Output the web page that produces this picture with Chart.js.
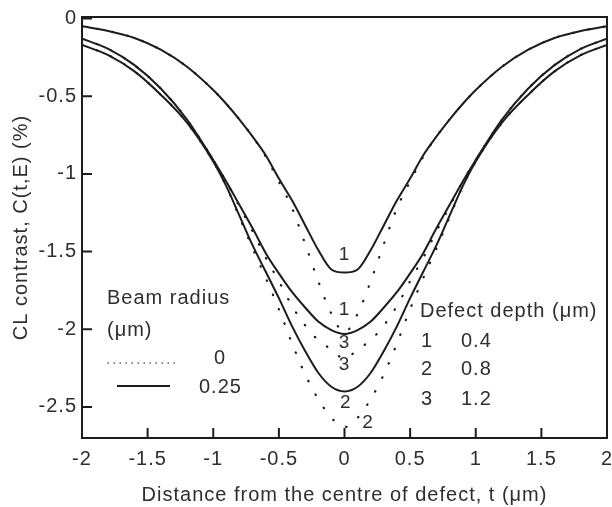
<!DOCTYPE html>
<html>
<head>
<meta charset="utf-8">
<script src="https://cdn.jsdelivr.net/npm/chart.js@4.4.1/dist/chart.umd.min.js"></script>
<style>
  html, body { margin:0; padding:0; background:#fff; }
  #wrap { width:612px; height:507px; }
</style>
</head>
<body>
<div id="wrap"><canvas id="cl" width="612" height="507"></canvas></div>
<script>
// ====== CL contrast vs distance from defect ======
const tVals = [-2, -1.8, -1.6, -1.4, -1.2, -1, -0.9, -0.8, -0.7, -0.6, -0.5, -0.4, -0.3, -0.2, -0.1,
               0, 0.1, 0.2, 0.3, 0.4, 0.5, 0.6, 0.7, 0.8, 0.9, 1, 1.2, 1.4, 1.6, 1.8, 2];

// beam radius 0.25 µm (solid)
const solid1 = [-0.05,-0.08,-0.125,-0.20,-0.31,-0.46,-0.55,-0.65,-0.76,-0.88,-1.03,-1.17,-1.33,-1.49,-1.615,
                -1.635,-1.615,-1.49,-1.33,-1.17,-1.03,-0.88,-0.76,-0.65,-0.55,-0.46,-0.31,-0.20,-0.125,-0.08,-0.05];
const solid2 = [-0.17,-0.235,-0.34,-0.49,-0.67,-0.92,-1.08,-1.27,-1.46,-1.63,-1.80,-1.98,-2.14,-2.28,-2.37,
                -2.40,-2.37,-2.28,-2.14,-1.98,-1.80,-1.63,-1.46,-1.27,-1.08,-0.92,-0.67,-0.49,-0.34,-0.235,-0.17];
const solid3 = [-0.13,-0.195,-0.30,-0.45,-0.65,-0.91,-1.05,-1.20,-1.35,-1.51,-1.64,-1.76,-1.86,-1.95,-2.005,
                -2.03,-2.005,-1.95,-1.86,-1.76,-1.64,-1.51,-1.35,-1.20,-1.05,-0.91,-0.65,-0.45,-0.30,-0.195,-0.13];

// beam radius 0 (dotted)
const dotted1 = [-0.05,-0.08,-0.125,-0.20,-0.31,-0.46,-0.55,-0.65,-0.76,-0.89,-1.05,-1.22,-1.45,-1.69,-1.90,
                 -2.02,-1.90,-1.69,-1.45,-1.22,-1.05,-0.89,-0.76,-0.65,-0.55,-0.46,-0.31,-0.20,-0.125,-0.08,-0.05];
const dotted2 = [-0.17,-0.235,-0.34,-0.49,-0.67,-0.92,-1.08,-1.28,-1.48,-1.67,-1.87,-2.09,-2.29,-2.45,-2.57,
                 -2.63,-2.57,-2.45,-2.29,-2.09,-1.87,-1.67,-1.48,-1.28,-1.08,-0.92,-0.67,-0.49,-0.34,-0.235,-0.17];
const dotted3 = [-0.13,-0.195,-0.30,-0.45,-0.65,-0.91,-1.05,-1.21,-1.37,-1.54,-1.69,-1.85,-1.975,-2.07,-2.13,
                 -2.19,-2.13,-2.07,-1.975,-1.85,-1.69,-1.54,-1.37,-1.21,-1.05,-0.91,-0.65,-0.45,-0.30,-0.195,-0.13];

const xTicks = [-2, -1.5, -1, -0.5, 0, 0.5, 1, 1.5, 2];
const yTicks = [0, -0.5, -1, -1.5, -2, -2.5];

const INK = '#1c1c1c';
const TXT = '#2e2e2e';
const FONT = '"Liberation Sans", Arial, sans-serif';

const pts = (arr) => tVals.map((t, i) => ({ x: t, y: arr[i] }));
const solidDs  = (arr) => ({ data: pts(arr), borderColor: INK, borderWidth: 2, pointRadius: 0, cubicInterpolationMode: 'monotone' });
const dottedDs = (arr) => ({ data: pts(arr), borderColor: INK, borderWidth: 2.2, borderDash: [0.5, 15], borderCapStyle: 'round',
                             pointRadius: 0, cubicInterpolationMode: 'monotone' });

// --- texto, ticks hacia dentro y marco ---
const decor = {
  id: 'decor',
  beforeDraw(chart){ chart.ctx.letterSpacing = '1px'; },
  afterDatasetsDraw(chart){
    const { ctx, chartArea: a, scales: { x, y } } = chart;
    ctx.save();
    ctx.strokeStyle = INK; ctx.lineWidth = 2; ctx.setLineDash([]);
    ctx.strokeRect(a.left, a.top, a.right - a.left, a.bottom - a.top);
    ctx.beginPath();
    xTicks.forEach(v => { const px = x.getPixelForValue(v); ctx.moveTo(px, a.bottom); ctx.lineTo(px, a.bottom - 10); });
    yTicks.forEach(v => { const py = y.getPixelForValue(v); ctx.moveTo(a.left, py); ctx.lineTo(a.left + 10, py); });
    ctx.stroke();

    // curve labels
    ctx.fillStyle = TXT; ctx.font = '19px ' + FONT; ctx.textAlign = 'center'; ctx.textBaseline = 'middle';
    [['1', 0, -1.52], ['1', 0, -1.875], ['3', 0, -2.09], ['3', 0, -2.23], ['2', 0.01, -2.475], ['2', 0.18, -2.60]]
      .forEach(([s, t, v]) => ctx.fillText(s, x.getPixelForValue(t), y.getPixelForValue(v)));

    // legend: beam radius
    ctx.font = '20px ' + FONT; ctx.textAlign = 'left';
    ctx.fillText('Beam radius', 107, 298);
    ctx.fillText('(\u03BCm)', 107, 330);
    ctx.textAlign = 'center';
    ctx.fillText('0', 220, 358);
    ctx.textAlign = 'left';
    ctx.fillText('0.25', 199, 387);

    ctx.strokeStyle = '#555'; ctx.lineWidth = 1.3; ctx.lineCap = 'round'; ctx.setLineDash([0.5, 5.5]);
    ctx.beginPath(); ctx.moveTo(108, 363); ctx.lineTo(180, 363); ctx.stroke();
    ctx.strokeStyle = INK; ctx.lineWidth = 2.2; ctx.lineCap = 'butt'; ctx.setLineDash([]);
    ctx.beginPath(); ctx.moveTo(117, 386); ctx.lineTo(170, 386); ctx.stroke();

    // legend: defect depth
    ctx.fillText('Defect depth (\u03BCm)', 420, 311);
    [['1', '0.4', 341], ['2', '0.8', 369], ['3', '1.2', 399]].forEach(([k, d, py]) => {
      ctx.fillText(k, 421, py); ctx.fillText(d, 461, py);
    });
    ctx.restore();
  }
};

new Chart(document.getElementById('cl'), {
  type: 'line',
  data: { datasets: [
    dottedDs(dotted1), dottedDs(dotted2), dottedDs(dotted3),
    solidDs(solid1), solidDs(solid2), solidDs(solid3)
  ]},
  options: {
    responsive: false, animation: false, devicePixelRatio: 1,
    layout: { padding: { left: 0, right: 5, top: 17, bottom: 0 } },
    plugins: { legend: { display: false }, tooltip: { enabled: false } },
    scales: {
      x: {
        type: 'linear', min: -2, max: 2,
        afterBuildTicks: s => { s.ticks = xTicks.map(v => ({ value: v })); },
        afterFit: s => { s.height = 69; s.paddingLeft = 0; s.paddingRight = 0; },
        grid: { display: false, drawTicks: false }, border: { display: false },
        ticks: { color: TXT, font: { family: FONT, size: 20 }, padding: 9, maxRotation: 0, callback: v => String(v) },
        title: { display: true, text: 'Distance from the centre of defect, t (\u03BCm)', color: TXT,
                 font: { family: FONT, size: 20 }, padding: { top: 0, bottom: 0 } }
      },
      y: {
        type: 'linear', min: -2.7, max: 0.01,
        afterBuildTicks: s => { s.ticks = yTicks.map(v => ({ value: v })); },
        afterFit: s => { s.width = 82; },
        grid: { display: false, drawTicks: false }, border: { display: false },
        ticks: { color: TXT, font: { family: FONT, size: 20 }, padding: 5, callback: v => String(v) },
        title: { display: true, text: 'CL contrast, C(t,E) (%)', color: TXT,
                 font: { family: FONT, size: 20 }, padding: { top: 9, bottom: 0 } }
      }
    }
  },
  plugins: [decor]
});
</script>
</body>
</html>
